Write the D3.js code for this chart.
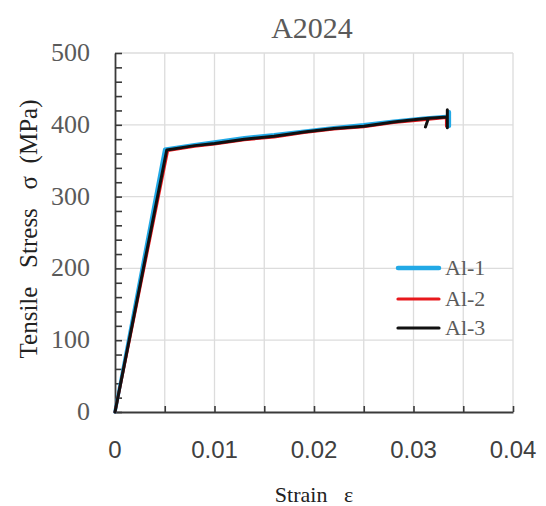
<!DOCTYPE html>
<html>
<head>
<meta charset="utf-8">
<script src="https://cdn.jsdelivr.net/npm/d3@7"></script>
<style>
  html, body { margin: 0; padding: 0; background: #fff; }
  svg { display: block; }
</style>
</head>
<body>
<svg id="chart" width="546" height="506"></svg>
<script>
// Tensile test curves for three A2024 specimens
const seriesNames = ["Al-1", "Al-2", "Al-3"];
const seriesColors = ["#22a9e6", "#e8181c", "#111111"];

const strainAl1 = [0, 0.0050, 0.0080, 0.0100, 0.0130, 0.0160, 0.0190, 0.0220, 0.0250, 0.0280, 0.0310, 0.0336, 0.0336, 0.0336];
const stressAl1 = [0, 366, 372, 376, 382, 386, 391, 396, 400, 405, 409, 412, 418, 398];

const strainAl2 = [0, 0.0053, 0.0080, 0.0100, 0.0130, 0.0160, 0.0190, 0.0220, 0.0250, 0.0280, 0.0310, 0.0333, 0.0333];
const stressAl2 = [0, 364, 370, 373, 379, 383, 389, 394, 397, 403, 407, 410, 398];

const strainAl3 = [0, 0.0052, 0.0080, 0.0100, 0.0130, 0.0160, 0.0190, 0.0220, 0.0250, 0.0280, 0.0300, 0.0315, 0.0312, 0.0315, 0.0334, 0.0334, 0.0334];
const stressAl3 = [0, 365, 371, 374, 380, 384, 390, 395, 398, 404, 407, 409, 397, 409, 411, 421, 396];

const xTicks = [0, 0.01, 0.02, 0.03, 0.04];
const yTicks = [0, 100, 200, 300, 400, 500];

const svg = d3.select("#chart");
const plotLeft = 115, plotRight = 513, plotTop = 53, plotBottom = 412;

const x = d3.scaleLinear().domain([0, 0.04]).range([plotLeft, plotRight]);
const y = d3.scaleLinear().domain([0, 500]).range([plotBottom, plotTop]);

// grid
const grid = svg.append("g");
grid.selectAll("line.v").data(d3.range(1, 9).map(i => i * 0.005)).enter().append("line")
  .attr("class", "v")
  .attr("x1", d => x(d)).attr("x2", d => x(d)).attr("y1", plotTop).attr("y2", plotBottom)
  .attr("stroke", "#dcdcdc").attr("stroke-width", 1.3);
grid.selectAll("line.h").data(d3.range(1, 6).map(i => i * 100)).enter().append("line")
  .attr("class", "h")
  .attr("x1", plotLeft).attr("x2", plotRight).attr("y1", d => y(d)).attr("y2", d => y(d))
  .attr("stroke", "#dcdcdc").attr("stroke-width", 1.3);

// axes
const xAxis = d3.axisBottom(x).tickValues(d3.range(0, 9).map(i => i * 0.005))
  .tickSizeInner(-6).tickSizeOuter(0).tickFormat("");
const gx = svg.append("g").attr("transform", `translate(0,${plotBottom})`).call(xAxis);
const yAxis = d3.axisLeft(y).tickValues(d3.range(0, 26).map(i => i * 20))
  .tickSizeInner(-7).tickSizeOuter(0).tickFormat("");
const gy = svg.append("g").attr("transform", `translate(${plotLeft},0)`).call(yAxis);
[gx, gy].forEach(g => {
  g.select(".domain").attr("stroke", "#3a3a3a").attr("stroke-width", 1.8);
  g.selectAll(".tick line").attr("stroke", "#3a3a3a").attr("stroke-width", 1.6);
});

// tick labels
svg.append("g").selectAll("text").data(xTicks).enter().append("text")
  .attr("x", d => x(d)).attr("y", 458)
  .attr("text-anchor", "middle")
  .attr("font-family", "Liberation Sans, Arial, sans-serif")
  .attr("font-size", 24).attr("fill", "#404040")
  .text(d => d === 0 ? "0" : d3.format(".2f")(d));

svg.append("g").selectAll("text").data(yTicks).enter().append("text")
  .attr("x", 90).attr("y", d => y(d) + 8)
  .attr("text-anchor", "end")
  .attr("font-family", "Liberation Serif, Times New Roman, serif")
  .attr("font-size", 26).attr("fill", "#5a5a5a")
  .text(d => d);

// titles
svg.append("text").attr("x", 312).attr("y", 38).attr("text-anchor", "middle")
  .attr("font-family", "Liberation Serif, Times New Roman, serif")
  .attr("font-size", 30).attr("fill", "#5a5a5a").text("A2024");

svg.append("text").attr("x", 314).attr("y", 502).attr("text-anchor", "middle")
  .attr("font-family", "Liberation Serif, Times New Roman, serif")
  .attr("font-size", 22).attr("fill", "#222")
  .style("white-space", "pre")
  .text("Strain   ε");

svg.append("text").attr("transform", "translate(37,229) rotate(-90)")
  .attr("text-anchor", "middle")
  .attr("font-family", "Liberation Serif, Times New Roman, serif")
  .attr("font-size", 25).attr("fill", "#222")
  .style("white-space", "pre")
  .text("Tensile   Stress   σ  (MPa)");

// curves
const data = [
  strainAl1.map((s, i) => [s, stressAl1[i]]),
  strainAl2.map((s, i) => [s, stressAl2[i]]),
  strainAl3.map((s, i) => [s, stressAl3[i]])
];
const widths = [3.6, 2.8, 3.0];
const line = d3.line().x(d => x(d[0])).y(d => y(d[1]));
svg.append("g").selectAll("path").data(data).enter().append("path")
  .attr("d", line).attr("fill", "none")
  .attr("stroke", (d, i) => seriesColors[i])
  .attr("stroke-width", (d, i) => widths[i])
  .attr("stroke-linejoin", "round").attr("stroke-linecap", "round");

// legend
const legend = svg.append("g");
const legendY = [268, 299, 328];
seriesNames.forEach((name, i) => {
  legend.append("line").attr("x1", 398).attr("x2", 439)
    .attr("y1", legendY[i]).attr("y2", legendY[i])
    .attr("stroke", seriesColors[i]).attr("stroke-width", i === 0 ? 4.5 : 3.2)
    .attr("stroke-linecap", "round");
  legend.append("text").attr("x", 445).attr("y", legendY[i] + 7)
    .attr("font-family", "Liberation Serif, Times New Roman, serif")
    .attr("font-size", 22).attr("fill", "#5a5a5a").text(name);
});
</script>
</body>
</html>
